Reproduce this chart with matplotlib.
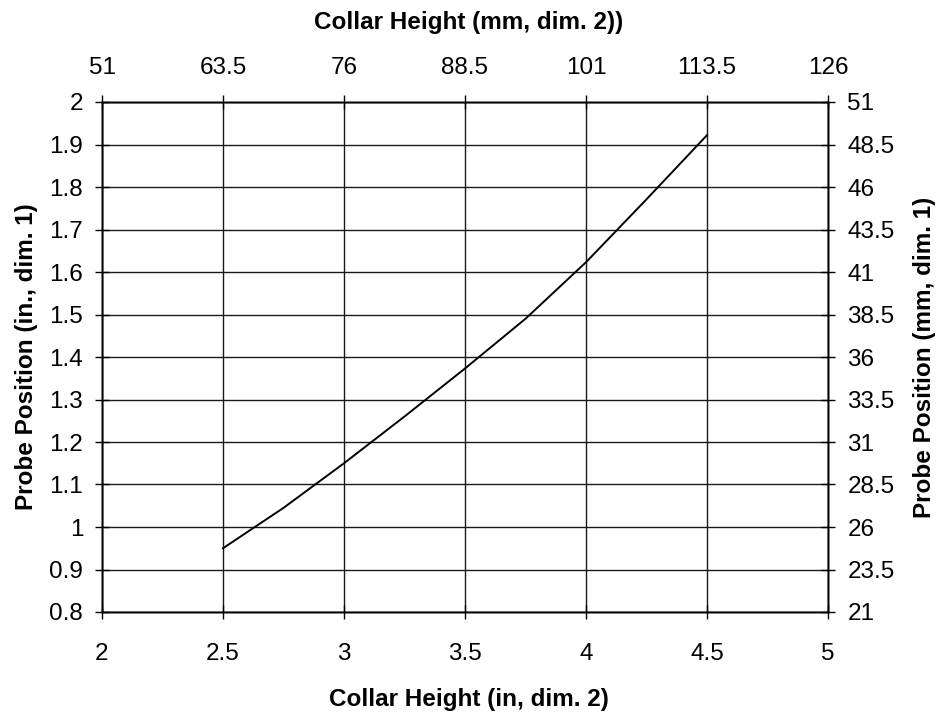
import matplotlib
matplotlib.use("Agg")
import matplotlib.pyplot as plt

plt.rcParams['font.family'] = ['Liberation Sans', 'DejaVu Sans']

# Data
collar_height_in = [2.5, 2.75, 3.0, 3.25, 3.5, 3.75, 4.0, 4.25, 4.5]
probe_position_in = [0.95, 1.045, 1.15, 1.26, 1.373, 1.49, 1.623, 1.771, 1.922]

x_ticks = [2, 2.5, 3, 3.5, 4, 4.5, 5]
y_ticks = [0.8, 0.9, 1.0, 1.1, 1.2, 1.3, 1.4, 1.5, 1.6, 1.7, 1.8, 1.9, 2.0]
x_tick_labels = ["2", "2.5", "3", "3.5", "4", "4.5", "5"]
y_tick_labels = ["0.8", "0.9", "1", "1.1", "1.2", "1.3", "1.4", "1.5", "1.6", "1.7", "1.8", "1.9", "2"]
top_tick_labels = ["51", "63.5", "76", "88.5", "101", "113.5", "126"]
right_tick_labels = ["21", "23.5", "26", "28.5", "31", "33.5", "36", "38.5", "41", "43.5", "46", "48.5", "51"]

W, H = 937, 715
fig = plt.figure(figsize=(W / 100, H / 100), dpi=100)
ax = fig.add_axes([102/W, 103/H, (828-102)/W, (612-102)/H])

ax.plot(collar_height_in, probe_position_in, color='black', lw=1.4)
ax.set_xlim(2, 5)
ax.set_ylim(0.8, 2.0)
ax.set_xticks(x_ticks)
ax.set_xticklabels(x_tick_labels)
ax.set_yticks(y_ticks)
ax.set_yticklabels(y_tick_labels)
ax.grid(True, color='#1a1a1a', lw=1.0)
ax.set_axisbelow(True)

fs = 17.5
lfs = 17.5
tl = 10
ax.tick_params(axis='both', direction='inout', length=tl, width=1, labelsize=fs, color='black')
ax.tick_params(axis='x', pad=17)
ax.tick_params(axis='y', pad=8.5)

ax2 = ax.twinx()
ax2.set_ylim(0.8, 2.0)
ax2.set_yticks(y_ticks)
ax2.set_yticklabels(right_tick_labels)
ax2.tick_params(direction='inout', length=tl, width=1, labelsize=fs, pad=9)

ax3 = ax.twiny()
ax3.set_xlim(2, 5)
ax3.set_xticks(x_ticks)
ax3.set_xticklabels(top_tick_labels)
ax3.tick_params(direction='inout', length=tl, width=1, labelsize=fs, pad=11.5)

ax.set_xlabel("Collar Height (in, dim. 2)", fontsize=lfs, fontweight='bold', va='baseline')
ax.xaxis.set_label_coords(0.5, (H - 706) / H, transform=fig.transFigure)
ax3.set_xlabel("Collar Height (mm, dim. 2))", fontsize=lfs, fontweight='bold', va='baseline')
ax3.xaxis.set_label_coords(0.5, (H - 29) / H, transform=fig.transFigure)
ax.set_ylabel("Probe Position (in., dim. 1)", fontsize=lfs, fontweight='bold',
              va='baseline', ha='center', rotation=90, rotation_mode='anchor')
ax.yaxis.set_label_coords(33 / W, (H - 357) / H, transform=fig.transFigure)
ax2.set_ylabel("Probe Position (mm, dim. 1)", fontsize=lfs, fontweight='bold',
               va='baseline', ha='center', rotation=90, rotation_mode='anchor')
ax2.yaxis.set_label_coords(931 / W, (H - 357) / H, transform=fig.transFigure)

for a in (ax, ax2, ax3):
    for s in a.spines.values():
        s.set_color('black')
        s.set_linewidth(1.0)

fig.savefig("out.png", dpi=100)
